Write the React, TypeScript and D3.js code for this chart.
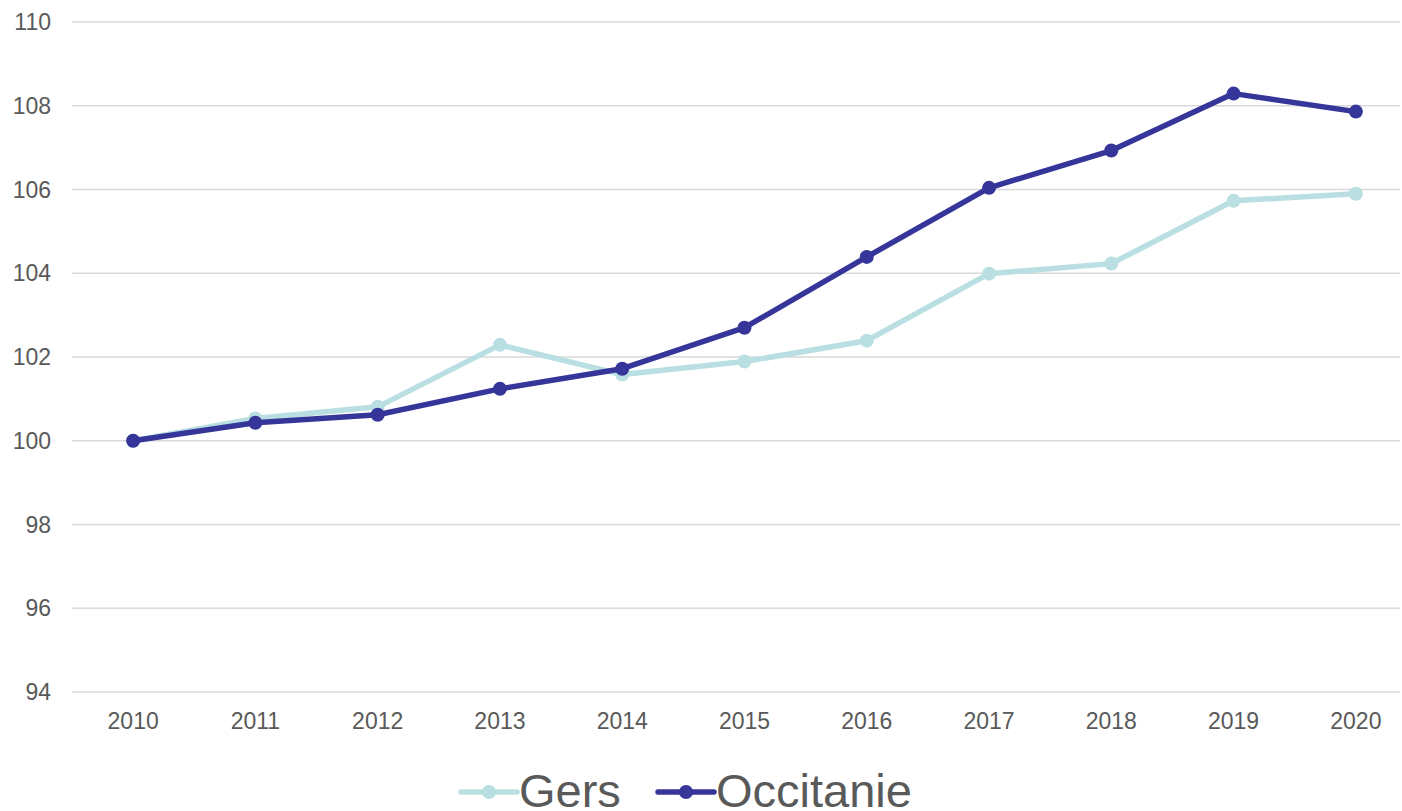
import { useEffect, useRef } from 'react'
import * as d3 from 'd3'

const YEARS = ['2010', '2011', '2012', '2013', '2014', '2015', '2016', '2017', '2018', '2019', '2020']
const GERS = [100, 100.53, 100.81, 102.29, 101.58, 101.89, 102.39, 103.99, 104.23, 105.73, 105.9]
const OCCITANIE = [100, 100.43, 100.62, 101.24, 101.72, 102.7, 104.39, 106.04, 106.93, 108.29, 107.86]
const Y_TICKS = [94, 96, 98, 100, 102, 104, 106, 108, 110]

const SERIES = [
  { name: 'Gers', values: GERS, color: '#b9dfe2' },
  { name: 'Occitanie', values: OCCITANIE, color: '#35359a' },
]

const W = 1402
const H = 811
const FONT = '"Liberation Sans", Arial, sans-serif'
const TEXT = '#595959'

export default function App() {
  const svgRef = useRef<SVGSVGElement>(null)

  useEffect(() => {
    if (!svgRef.current) return
    const svg = d3.select(svgRef.current)
    svg.selectAll('*').remove()

    const x = d3.scaleBand<string>().domain(YEARS).range([72, 1417])
    const y = d3.scaleLinear().domain([94, 110]).range([692, 22])
    const cx = (d: string) => (x(d) ?? 0) + x.bandwidth() / 2

    const g = svg.append('g')

    g.append('g').selectAll('line')
      .data(Y_TICKS)
      .join('line')
      .attr('x1', 72).attr('x2', 1400)
      .attr('y1', d => y(d)).attr('y2', d => y(d))
      .attr('stroke', '#d9d9d9').attr('stroke-width', 1.5)

    g.append('g').selectAll('text')
      .data(Y_TICKS)
      .join('text')
      .attr('x', 51).attr('y', d => y(d))
      .attr('text-anchor', 'end').attr('dominant-baseline', 'central')
      .style('fill', TEXT).style('font-size', '23px').style('font-family', FONT)
      .text(d => d)

    g.append('g').selectAll('text')
      .data(YEARS)
      .join('text')
      .attr('x', d => cx(d)).attr('y', 721)
      .attr('text-anchor', 'middle').attr('dominant-baseline', 'central')
      .style('fill', TEXT).style('font-size', '23px').style('font-family', FONT)
      .text(d => d)

    const line = d3.line<number>()
      .x((_, i) => cx(YEARS[i]))
      .y(d => y(d))

    SERIES.forEach(s => {
      g.append('path')
        .datum(s.values)
        .attr('d', line)
        .attr('fill', 'none')
        .attr('stroke', s.color).attr('stroke-width', 5.5)
        .attr('stroke-linejoin', 'round').attr('stroke-linecap', 'round')
      g.append('g').selectAll('circle')
        .data(s.values)
        .join('circle')
        .attr('cx', (_, i) => cx(YEARS[i]))
        .attr('cy', d => y(d))
        .attr('r', 7)
        .attr('fill', s.color)
    })

    // legend
    const legendX = [461, 658]
    SERIES.forEach((s, i) => {
      const lg = g.append('g').attr('transform', `translate(${legendX[i]},792)`)
      lg.append('line').attr('x1', 0).attr('x2', 56).attr('y1', 0).attr('y2', 0)
        .attr('stroke', s.color).attr('stroke-width', 5.5).attr('stroke-linecap', 'round')
      lg.append('circle').attr('cx', 28).attr('r', 7).attr('fill', s.color)
      lg.append('text').attr('x', 58).attr('y', 15)
        .style('fill', TEXT).style('font-size', '47px').style('font-family', FONT)
        .text(s.name)
    })
  }, [])

  return (
    <svg
      ref={svgRef}
      width={W}
      height={H}
      style={{ position: 'absolute', left: 0, top: 0, background: '#fff' }}
    />
  )
}
